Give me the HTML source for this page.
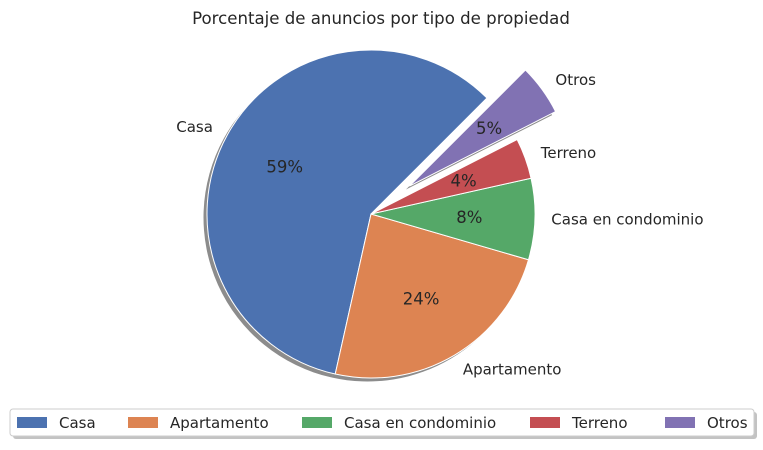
<!DOCTYPE html>
<html><head><meta charset="utf-8"><style>
body{margin:0;background:#fff;font-family:"DejaVu Sans","Liberation Sans",sans-serif;}
svg text{font-family:"DejaVu Sans","Liberation Sans",sans-serif;fill:#262626;}
</style></head><body>
<svg id="chart" width="763" height="446" xmlns="http://www.w3.org/2000/svg">
<text x="381" y="24" font-size="16.6" text-anchor="middle">Porcentaje de anuncios por tipo de propiedad</text>
<g id="shadows"></g><g id="slices"></g><g id="labels"></g>
<g>
<rect x="13" y="412" width="744" height="27" rx="3" fill="#888" opacity="0.5"/>
<rect x="10" y="409" width="744" height="27" rx="3" fill="#fff" stroke="#ccc"/>
<g id="legend-items"></g>
</g>
</svg>
<script>
const categories=["Casa","Apartamento","Casa en condominio","Terreno","Otros"];
const values=[59,24,8,4,5];
const explode=[0,0,0,0,0.29];
const colors=["#4c72b0","#dd8452","#55a868","#c44e52","#8172b3"];
const legendX=[17,128,302,530,665];
const cx=371,cy=214,R=164,start=45;
const ns="http://www.w3.org/2000/svg";
const total=values.reduce((a,b)=>a+b,0);
function pt(a,r,ox,oy){const t=a*Math.PI/180;return [ox+r*Math.cos(t),oy-r*Math.sin(t)];}
function mk(tag,attrs,parent){const e=document.createElementNS(ns,tag);for(const k in attrs)e.setAttribute(k,attrs[k]);parent.appendChild(e);return e;}
let a=start;
const sh=document.getElementById('shadows'),sl=document.getElementById('slices'),lb=document.getElementById('labels');
values.forEach((v,i)=>{
 const sweep=v/total*360,a2=a+sweep,mid=a+sweep/2;
 const [ox,oy]=pt(mid,explode[i]*R,cx,cy);
 const p1=pt(a,R,ox,oy),p2=pt(a2,R,ox,oy);
 const large=sweep>180?1:0;
 const d=`M${ox},${oy}L${p1[0]},${p1[1]}A${R},${R} 0 ${large} 0 ${p2[0]},${p2[1]}Z`;
 const s=mk('path',{d:d,fill:'#000',opacity:'0.45',transform:'translate(-3.5,3.5)'},sh);
 
 
 const p=mk('path',{d:d,fill:colors[i],stroke:'#fff','stroke-width':'1'},sl);
 
 
 const lp=pt(mid,1.1*R,ox,oy);
 const cosm=Math.cos(mid*Math.PI/180);
 const t=mk('text',{x:lp[0],y:lp[1]+5,'font-size':'15','text-anchor':cosm<0?'end':'start'},lb);
 t.textContent=categories[i];
 
 
 const pp=pt(mid,0.6*R,ox,oy);
 const t2=mk('text',{x:pp[0],y:pp[1]+6,'font-size':'16.5','text-anchor':'middle'},lb);
 t2.textContent=Math.round(v/total*100)+'%';
 
 
 a=a2;
});
const li=document.getElementById('legend-items');
categories.forEach((c,i)=>{
 const r=mk('rect',{x:legendX[i],y:417,width:30,height:11,fill:colors[i]},li);
 
 
 const t=mk('text',{x:legendX[i]+42,y:428,'font-size':'15'},li);
 t.textContent=c;
 
 
});
</script>
</body></html>
